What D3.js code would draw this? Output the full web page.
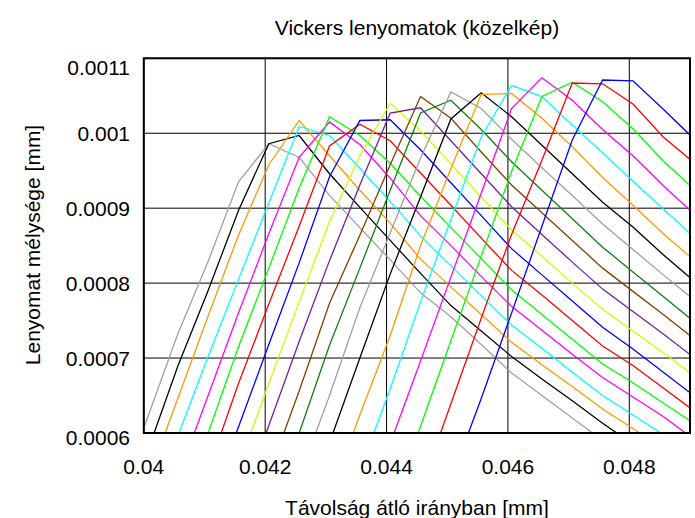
<!DOCTYPE html>
<html>
<head>
<meta charset="utf-8">
<title>Vickers lenyomatok</title>
<script src="https://d3js.org/d3.v7.min.js"></script>
<style>
  body {margin: 0; background: #fff;}
  text {font-family: "Liberation Sans", Arial, sans-serif; fill: #000;}
</style>
</head>
<body>
<svg id="chart" width="695" height="518"></svg>
<script>
// sample positions along the diagonal [mm]
const xGrid = [0.03956, 0.04006, 0.04056, 0.04106, 0.04156, 0.04206, 0.04256, 0.04306, 0.04356, 0.04406,
               0.04456, 0.04506, 0.04556, 0.04606, 0.04656, 0.04706, 0.04756, 0.04806, 0.04856, 0.04906];

// depth of each indentation profile, in units of 1e-4 mm (null = not drawn)
const curve01 = [5.1, 6.2, 7.32, 8.29, 9.35, 9.86, 9.68, 9.17, 8.74, 8.31, 7.87, 7.55, 7.18, 6.8, 6.5, 6.2, 5.9, null, null, null];
const curve02 = [4.7, 5.75, 6.89, 7.9, 8.97, 9.86, 9.97, 9.46, 9.01, 8.57, 8.13, 7.7, 7.36, 7.02, 6.72, 6.43, 6.13, 5.85, null, null];
const curve03 = [null, 5.36, 6.46, 7.56, 8.64, 9.58, 10.17, 9.70, 9.24, 8.8, 8.32, 7.95, 7.58, 7.21, 6.91, 6.62, 6.32, 6.06, 5.8, null];
const curve04 = [null, null, 5.96, 7.02, 8.05, 9.07, 10.09, 9.97, 9.53, 9.09, 8.63, 8.23, 7.83, 7.44, 7.13, 6.81, 6.5, 6.24, 5.98, 5.72];
const curve05 = [null, null, 5.4, 6.5, 7.6, 8.66, 9.68, 10.15, 9.85, 9.4, 8.9, 8.5, 8.09, 7.69, 7.37, 7.05, 6.74, 6.48, 6.22, 5.92];
const curve06 = [null, null, 4.9, 6.0, 7.15, 8.2, 9.27, 10.22, 9.97, 9.6, 9.16, 8.74, 8.33, 7.91, 7.58, 7.25, 6.92, 6.67, 6.4, 6.13];
const curve07 = [null, null, null, 5.5, 6.66, 7.72, 8.76, 9.83, 10.12, 9.9, 9.47, 9.04, 8.6, 8.17, 7.84, 7.5, 7.16, 6.9, 6.6, 6.3];
const curve08 = [null, null, null, 5.0, 6.08, 7.18, 8.27, 9.42, 10.17, 10.18, 9.78, 9.34, 8.9, 8.46, 8.11, 7.76, 7.41, 7.12, 6.81, 6.5];
const curve09 = [null, null, null, null, 5.56, 6.66, 7.75, 8.82, 9.7, 10.4, 10.03, 9.59, 9.15, 8.71, 8.36, 8.0, 7.65, 7.36, 7.07, 6.77];
const curve10 = [null, null, null, null, 5.0, 6.1, 7.22, 8.3, 9.31, 10.27, 10.34, 9.9, 9.46, 9.02, 8.65, 8.28, 7.92, 7.62, 7.32, 7.01];
const curve11 = [null, null, null, null, null, 5.45, 6.56, 7.73, 8.64, 9.58, 10.49, 10.2, 9.75, 9.31, 8.94, 8.57, 8.2, 7.89, 7.58, 7.26];
const curve12 = [null, null, null, null, null, 4.9, 6.0, 7.17, 8.2, 9.24, 10.27, 10.44, 10.05, 9.62, 9.24, 8.86, 8.48, 8.15, 7.82, 7.49];
const curve13 = [null, null, null, null, null, null, 5.4, 6.5, 7.67, 8.67, 9.67, 10.55, 10.33, 9.92, 9.54, 9.17, 8.79, 8.45, 8.11, 7.78];
const curve14 = [null, null, null, null, null, null, 4.8, 5.87, 7.0, 8.12, 9.15, 10.19, 10.54, 10.22, 9.84, 9.46, 9.08, 8.75, 8.38, 8.03];
const curve15 = [null, null, null, null, null, null, null, 5.14, 6.24, 7.3, 8.5, 9.53, 10.52, 10.53, 10.2, 9.82, 9.41, 9.04, 8.66, 8.31];
const curve16 = [null, null, null, null, null, null, null, null, 5.5, 6.59, 7.75, 8.85, 9.95, 10.64, 10.49, 10.11, 9.74, 9.36, 8.99, 8.62];
const curve17 = [null, null, null, null, null, null, null, null, null, 5.86, 6.96, 8.08, 9.2, 10.33, 10.74, 10.44, 10.05, 9.7, 9.3, 8.93];
const curve18 = [null, null, null, null, null, null, null, null, null, 4.95, 6.09, 7.23, 8.36, 9.49, 10.49, 10.68, 10.42, 10.06, 9.63, 9.26];
const curve19 = [null, null, null, null, null, null, null, null, null, null, 5.25, 6.39, 7.53, 8.65, 9.64, 10.67, 10.66, 10.39, 9.95, 9.61];
const curve20 = [null, null, null, null, null, null, null, null, null, null, null, 5.37, 6.46, 7.6, 8.76, 9.91, 10.71, 10.7, 10.32, 9.93];

const curveColors = ["#a0a0a0", "#000000", "#ff9900", "#00ffff", "#ff00ff", "#00ff00", "#ff0000", "#0000ff", "#ccff00", "#7020a0",
                     "#804000", "#108010", "#a0a0a0", "#000000", "#ff9900", "#00ffff", "#ff00ff", "#00ff00", "#ff0000", "#0000ff"];

const xTicks = [0.04, 0.042, 0.044, 0.046, 0.048];
const yTicks = [0.0006, 0.0007, 0.0008, 0.0009, 0.001, 0.0011];

const curves = [curve01, curve02, curve03, curve04, curve05, curve06, curve07, curve08, curve09, curve10,
                curve11, curve12, curve13, curve14, curve15, curve16, curve17, curve18, curve19, curve20];

const svg = d3.select("#chart");
const plotLeft = 143.8, plotRight = 690, plotTop = 58.3, plotBottom = 433;

const x = d3.scaleLinear().domain([0.04, 0.049]).range([plotLeft, plotRight]);
const y = d3.scaleLinear().domain([0.0006, 0.0011]).range([plotBottom, plotTop]);

// grid
svg.append("g").selectAll("line").data(xTicks).join("line")
   .attr("x1", d => x(d)).attr("x2", d => x(d)).attr("y1", plotTop).attr("y2", plotBottom)
   .attr("stroke", "#000").attr("stroke-width", 1);
svg.append("g").selectAll("line").data(yTicks).join("line")
   .attr("x1", plotLeft).attr("x2", plotRight).attr("y1", d => y(d)).attr("y2", d => y(d))
   .attr("stroke", "#000").attr("stroke-width", 1);

// curves
svg.append("clipPath").attr("id", "plotclip").append("rect")
   .attr("x", plotLeft).attr("y", plotTop).attr("width", plotRight - plotLeft).attr("height", plotBottom - plotTop);

const line = d3.line()
   .defined(d => d[1] !== null)
   .x(d => x(d[0]))
   .y(d => y(d[1] * 1e-4));

svg.append("g").attr("clip-path", "url(#plotclip)")
   .selectAll("path").data(curves).join("path")
   .attr("d", c => line(c.map((v, i) => [xGrid[i], v])))
   .attr("fill", "none")
   .attr("stroke", (c, i) => curveColors[i])
   .attr("stroke-width", 1.3);

// frame
svg.append("rect").attr("x", plotLeft).attr("y", plotTop).attr("width", plotRight - plotLeft).attr("height", plotBottom - plotTop)
   .attr("fill", "none").attr("stroke", "#000").attr("stroke-width", 2);

// tick labels (end labels sit a little inside the frame, as in the original)
svg.append("g").selectAll("text").data(xTicks).join("text")
   .attr("x", d => x(d)).attr("y", 474)
   .attr("text-anchor", "middle").attr("font-size", 21)
   .text(d => String(d));
svg.append("g").selectAll("text").data(yTicks).join("text")
   .attr("x", 130)
   .attr("y", (d, i) => y(d) + 8 + (i === 0 ? 4 : 0) + (i === yTicks.length - 1 ? 9 : 0))
   .attr("text-anchor", "end").attr("font-size", 21)
   .text(d => String(d));

// titles
svg.append("text").attr("x", 417).attr("y", 35).attr("text-anchor", "middle").attr("font-size", 21)
   .text("Vickers lenyomatok (közelkép)");
svg.append("text").attr("x", 417).attr("y", 515).attr("text-anchor", "middle").attr("font-size", 21)
   .text("Távolság átló irányban [mm]");
svg.append("text").attr("transform", "translate(40,245) rotate(-90)").attr("text-anchor", "middle").attr("font-size", 21)
   .text("Lenyomat mélysége [mm]");
</script>
</body>
</html>
